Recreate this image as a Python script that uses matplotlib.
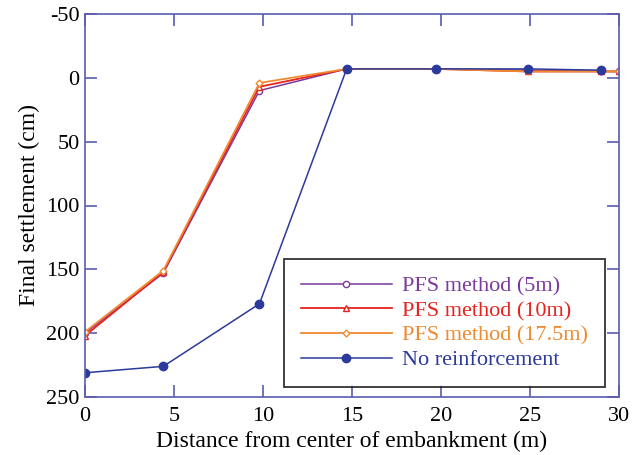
import matplotlib.pyplot as plt
from matplotlib.ticker import FuncFormatter

plt.rcParams["font.family"] = ["Liberation Serif", "DejaVu Serif"]

# data
x_pfs = [0, 4.4, 9.8, 14.7, 19.7, 24.9, 29.0, 30]
pfs_5m = [200, 153, 10, -7, -7, -6, -5, -5]
pfs_10m = [202, 152, 7, -7, -7, -5, -5, -5]
pfs_17m = [199, 151, 4, -7, -7, -5, -5, -5]

x_none = [0, 4.4, 9.8, 14.7, 19.7, 24.9, 29.0]
no_reinf = [231, 226, 177, -7, -7, -7, -6]

labels = ["PFS method (5m)", "PFS method (10m)", "PFS method (17.5m)", "No reinforcement"]
colors = ["#7a3a9e", "#e8231e", "#f08a30", "#2b3a9b"]

fig = plt.figure(figsize=(6.37, 4.55), dpi=100)
ax = fig.add_axes([85 / 637, 1 - 397 / 455, (619 - 85) / 637, (397 - 14) / 455])

ax.plot(x_pfs, pfs_5m, color=colors[0], lw=1.1, marker="o", ms=4.5, mfc="white", label=labels[0])
ax.plot(x_pfs, pfs_10m, color=colors[1], lw=1.3, marker="^", ms=4.5, mfc="white", label=labels[1])
ax.plot(x_pfs, pfs_17m, color=colors[2], lw=1.3, marker="D", ms=3.5, mfc="white", label=labels[2])
ax.plot(x_none, no_reinf, color=colors[3], lw=1.1, marker="o", ms=6, label=labels[3])

ax.set_xlim(0, 30)
ax.set_ylim(250, -50)
ax.set_xticks(range(0, 31, 5))
ax.set_yticks(range(-50, 251, 50))
ax.yaxis.set_major_formatter(FuncFormatter(lambda v, p: str(int(v))))

spine_color = "#5a5cb0"
for s in ax.spines.values():
    s.set_color(spine_color)
    s.set_linewidth(1.2)
ax.tick_params(direction="in", top=True, right=True, length=8.5, width=1.2,
               color=spine_color, labelsize=16, labelcolor="black", pad=4)
ax.tick_params(axis="x", pad=7)

ax.set_xlabel("Distance from center of embankment (m)", fontsize=17, labelpad=4)
ax.set_ylabel("Final settlement (cm)", fontsize=17, labelpad=4)

leg = ax.legend(loc="lower right", bbox_to_anchor=(0.973, 0.026), fontsize=16,
                frameon=True, fancybox=False, edgecolor="black", handlelength=4.1,
                handletextpad=0.45, labelspacing=0.18, borderpad=0.75, borderaxespad=0)
leg.get_frame().set_linewidth(1.3)
for t, c in zip(leg.get_texts(), colors):
    t.set_color(c)

fig.savefig("out.png", dpi=100)
